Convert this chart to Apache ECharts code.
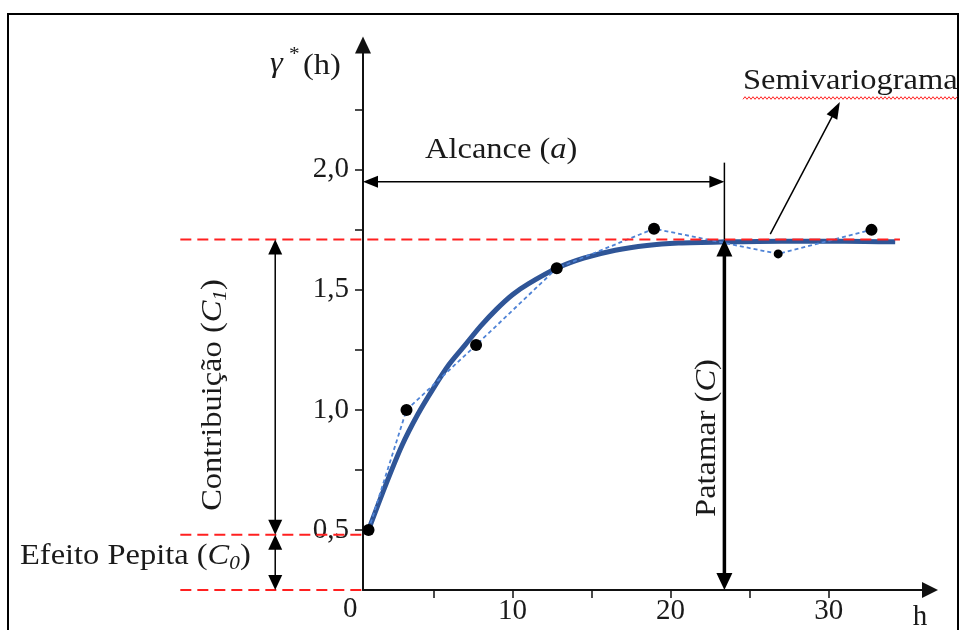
<!DOCTYPE html>
<html>
<head>
<meta charset="utf-8">
<script src="https://cdn.jsdelivr.net/npm/echarts@6.0.0/dist/echarts.min.js"></script>
<style>
  html, body { margin: 0; padding: 0; background: #fff; }
  #chart { width: 961px; height: 630px; }
</style>
</head>
<body>
<div id="chart"></div>
<script>
// semivariograma experimental (h, gamma*)
const lagH = [0.9, 3.3, 7.7, 12.8, 18.95, 26.8, 32.7]
const lagGamma = [0.5, 1.0, 1.27, 1.59, 1.755, 1.65, 1.75]

// modelo ajustado
const modelH = [0.9, 2, 3, 4, 5, 6, 7, 8, 9, 10, 11, 12.8, 14.5, 16.5, 18.5, 20.5, 23.4, 27, 31, 34.2]
const modelGamma = [0.5, 0.69, 0.85, 0.98, 1.09, 1.19, 1.27, 1.35, 1.42, 1.48, 1.525, 1.59, 1.632, 1.665, 1.685, 1.695, 1.7, 1.703, 1.703, 1.7]

// parametros do modelo
const nugget = 0.48
const sill = 1.71
const range = 23.4

const xTicks = [5, 10, 15, 20, 25, 30]
const xLabels = [10, 20, 30]
const yTicks = [0.5, 0.75, 1, 1.25, 1.5, 1.75, 2, 2.25]
const yLabels = [0.5, 1, 1.5, 2]

const FONT = '"Liberation Serif", "Times New Roman", serif'
const INK = '#1a1a1a'
const RED = '#ff2020'
const STRETCH = 1.12

const chart = echarts.init(document.getElementById('chart'))

chart.setOption({
  animation: false,
  grid: { left: 363, right: 31, top: 45, bottom: 40 },
  xAxis: {
    type: 'value',
    min: 0.55,
    max: 36.4,
    splitLine: { show: false },
    axisLine: {
      onZero: false,
      lineStyle: { color: '#111', width: 2 },
      symbol: ['none', 'triangle'],
      symbolSize: [16, 16]
    },
    axisTick: { show: true, customValues: xTicks, length: 8, lineStyle: { color: '#111', width: 1.5 } },
    axisLabel: { customValues: xLabels, margin: 7, color: INK, fontFamily: FONT, fontSize: 29 }
  },
  yAxis: {
    type: 'value',
    min: 0.25,
    max: 2.52,
    splitLine: { show: false },
    axisLine: {
      show: true,
      onZero: false,
      lineStyle: { color: '#111', width: 2 },
      symbol: ['none', 'triangle'],
      symbolSize: [16, 17]
    },
    axisTick: { show: true, customValues: yTicks, length: 8, lineStyle: { color: '#111', width: 1.5 } },
    axisLabel: {
      customValues: yLabels,
      margin: 14,
      color: INK,
      fontFamily: FONT,
      fontSize: 29,
      padding: [0, 0, 14, 0],
      formatter: v => v.toFixed(1).replace('.', ',')
    }
  },
  series: [
    {
      name: 'modelo',
      type: 'line',
      data: modelH.map((h, i) => [h, modelGamma[i]]),
      smooth: 0.3,
      showSymbol: false,
      lineStyle: { color: '#2f5597', width: 5 },
      z: 2
    },
    {
      name: 'experimental',
      type: 'line',
      data: lagH.map((h, i) => [h, lagGamma[i]]),
      showSymbol: false,
      lineStyle: { color: '#4f83d6', width: 1.8, type: [4, 3] },
      z: 3
    },
    {
      name: 'pontos',
      type: 'scatter',
      data: lagH.map((h, i) => [h, lagGamma[i]]),
      symbolSize: (v, p) => (p.dataIndex === 5 ? 9 : 12),
      itemStyle: { color: '#000', opacity: 1 },
      z: 6
    }
  ]
})

const px = (h, g) => chart.convertToPixel({ gridIndex: 0 }, [h, g])

// triangulo com ponta em tip, vindo de from
function head(tip, from, len, wid, z) {
  const dx = tip[0] - from[0], dy = tip[1] - from[1]
  const L = Math.hypot(dx, dy)
  const ux = dx / L, uy = dy / L
  const bx = tip[0] - ux * len, by = tip[1] - uy * len
  return {
    type: 'polygon',
    z: z || 8,
    shape: { points: [tip, [bx - uy * wid / 2, by + ux * wid / 2], [bx + uy * wid / 2, by - ux * wid / 2]] },
    style: { fill: '#000' }
  }
}

function seg(a, b, width, z, extra) {
  return {
    type: 'line',
    z: z || 8,
    shape: { x1: a[0], y1: a[1], x2: b[0], y2: b[1] },
    style: Object.assign({ stroke: '#000', lineWidth: width }, extra || {})
  }
}

// seta dupla entre a e b
function doubleArrow(a, b, width, len, wid) {
  const dx = b[0] - a[0], dy = b[1] - a[1]
  const L = Math.hypot(dx, dy)
  const ux = dx / L, uy = dy / L
  const a2 = [a[0] + ux * (len - 2), a[1] + uy * (len - 2)]
  const b2 = [b[0] - ux * (len - 2), b[1] - uy * (len - 2)]
  return [seg(a2, b2, width), head(a, b, len, wid), head(b, a, len, wid)]
}

function label(text, x, y, opts) {
  return Object.assign({
    type: 'text',
    x: x,
    y: y,
    z: 10,
    scaleX: STRETCH,
    style: Object.assign({
      text: text,
      fill: INK,
      font: '29px ' + FONT,
      textAlign: 'left',
      textVerticalAlign: 'middle'
    }, (opts && opts.style) || {})
  }, (opts && opts.el) || {})
}

const richBase = {
  n: { fontFamily: FONT, fontSize: 29, lineHeight: 34, fill: INK },
  i: { fontFamily: FONT, fontSize: 29, lineHeight: 34, fontStyle: 'italic', fill: INK },
  sub: { fontFamily: FONT, fontSize: 19, lineHeight: 20, fontStyle: 'italic', fill: INK, verticalAlign: 'bottom' }
}

const elements = []

// linhas tracejadas vermelhas (patamar, pepita, base)
const dash = { stroke: RED, lineDash: [11, 6] }
elements.push(seg(px(-11, sill), px(34.5, sill), 2, 5, dash))
elements.push(seg(px(-11, nugget), px(0.55, nugget), 2, 5, dash))
elements.push(seg(px(-11, 0.25), px(0.55, 0.25), 2, 5, dash))

// patamar (C)
elements.push(...doubleArrow(px(range, sill), px(range, 0.25), 3.5, 17, 16))
elements.push(seg(px(range, 2.03), px(range, sill), 1.5))

// alcance (a)
elements.push(...doubleArrow(px(0.55, 1.95), px(range, 1.95), 1.5, 15, 12))

// contribuicao (C1) e efeito pepita (C0)
elements.push(...doubleArrow(px(-5, sill), px(-5, nugget), 1.5, 15, 14))
elements.push(...doubleArrow(px(-5, nugget), px(-5, 0.25), 1.5, 15, 14))

// seta do semivariograma
const sFrom = px(26.3, 1.732), sTip = px(30.7, 2.283)
elements.push(seg(sFrom, [sTip[0] - (sTip[0] - sFrom[0]) * 0.1, sTip[1] - (sTip[1] - sFrom[1]) * 0.1], 1.5))
elements.push(head(sTip, sFrom, 17, 12))

// textos
elements.push(label('γ', 270, 64, { style: { font: 'italic 29px ' + FONT } }))
elements.push(label('*', 289, 55, { style: { font: '19px ' + FONT } }))
elements.push(label('(h)', 303, 66))

elements.push(label('{n|Alcance (}{i|a}{n|)}', 425, 150, { style: { rich: richBase } }))
elements.push(label('Semivariograma', 743, 81))

elements.push(label('{n|Efeito Pepita (}{i|C}{sub|0}{n|)}', 20, 556, { style: { rich: richBase } }))

elements.push(label('{n|Contribuição (}{i|C}{sub|1}{n|)}', 213, 395, {
  style: { rich: richBase, textAlign: 'center' },
  el: { rotation: Math.PI / 2 }
}))
elements.push(label('{n|Patamar (}{i|C}{n|)}', 707, 438, {
  style: { rich: richBase, textAlign: 'center' },
  el: { rotation: Math.PI / 2 }
}))

// rotulos soltos do eixo x
const p0 = px(0, 0.25)
elements.push(label('0', p0[0] - 4, 609, { style: { textAlign: 'center' }, el: { scaleX: 1 } }))
elements.push(label('h', 920, 617, { style: { textAlign: 'center' }, el: { scaleX: 1 } }))

// sublinhado ondulado do corretor
const wave = []
for (let x = 743, k = 0; x <= 958; x += 2, k++) wave.push([x, 98 + (k % 2 ? -1.3 : 1.3)])
elements.push({ type: 'polyline', z: 9, shape: { points: wave }, style: { stroke: RED, lineWidth: 1, fill: null } })

// moldura
elements.push({
  type: 'rect',
  z: 1,
  shape: { x: 8, y: 14, width: 950, height: 700 },
  style: { stroke: '#000', lineWidth: 2, fill: null }
})

chart.setOption({ graphic: { elements: elements } })
</script>
</body>
</html>
